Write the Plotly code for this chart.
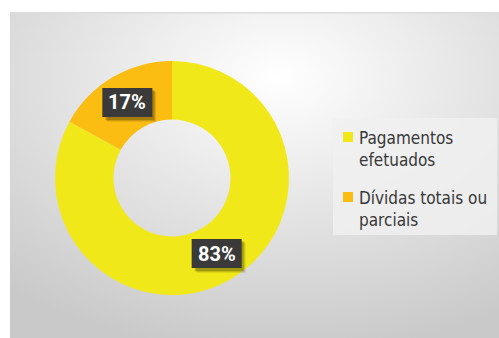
import math
import plotly.graph_objects as go

# Payment status shares (%)
categories = ["Pagamentos<br>efetuados", "Dívidas totais ou<br>parciais"]
shares = [83, 17]
colors = ["#f1e81a", "#fcbd12"]

W, H = 499, 338
cx, cy, r_out = 172, 178, 117  # donut centre / radius in px
hole = 0.5
FONT = "Liberation Sans Narrow, DejaVu Sans Condensed, Roboto Condensed, Roboto"


def px_x(x):
    return x / W


def px_y(y):
    return 1 - y / H


fig = go.Figure()
fig.add_trace(go.Pie(
    labels=categories,
    values=shares,
    hole=hole,
    sort=False,
    direction="clockwise",
    rotation=0,
    marker=dict(colors=colors, line=dict(width=0)),
    textinfo="none",
    hoverinfo="label+percent",
    showlegend=False,
    domain=dict(x=[px_x(cx - r_out), px_x(cx + r_out)],
                y=[px_y(cy + r_out), px_y(cy - r_out)]),
))

# Percentage tags at each slice's angular midpoint, mid-ring
total = sum(shares)
r_mid = r_out * (1 + hole) / 2
tag_w, tag_h = 50, 29
cum = 0
annotations, shapes = [], []
for v in shares:
    mid = (cum + v / 2) / total * 2 * math.pi
    cum += v
    tx = cx + r_mid * math.sin(mid)
    ty = cy - r_mid * math.cos(mid)
    # soft drop shadow behind the tag
    for k, a in ((5, 0.08), (4, 0.12), (3, 0.18)):
        shapes.append(dict(type="rect", xref="paper", yref="paper", layer="above",
                           x0=px_x(tx - tag_w / 2 + k), x1=px_x(tx + tag_w / 2 + k - 1),
                           y0=px_y(ty + tag_h / 2 + k), y1=px_y(ty - tag_h / 2 + k - 1),
                           fillcolor=f"rgba(0,0,0,{a})", line=dict(width=0)))
    shapes.append(dict(type="rect", xref="paper", yref="paper", layer="above",
                       x0=px_x(tx - tag_w / 2), x1=px_x(tx + tag_w / 2),
                       y0=px_y(ty + tag_h / 2), y1=px_y(ty - tag_h / 2),
                       fillcolor="#3a3a3a", line=dict(width=0)))
    annotations.append(dict(x=px_x(tx), y=px_y(ty), xref="paper", yref="paper",
                            xanchor="center", yanchor="middle", showarrow=False,
                            text=f"<b>{round(v / total * 100)}%</b>",
                            font=dict(family="Roboto", size=20, color="white")))

# Legend panel drawn by hand: background, colour squares, wrapped labels
shapes.append(dict(type="rect", xref="paper", yref="paper", layer="above",
                   x0=px_x(333), x1=px_x(497), y0=px_y(235), y1=px_y(118),
                   fillcolor="rgba(240,240,240,0.85)", line=dict(width=0)))
for i, (name, col) in enumerate(zip(categories, colors)):
    top = 132 + i * 60
    shapes.append(dict(type="rect", xref="paper", yref="paper", layer="above",
                       x0=px_x(343), x1=px_x(353), y0=px_y(top + 10), y1=px_y(top),
                       fillcolor=col, line=dict(width=0)))
    annotations.append(dict(x=px_x(357), y=px_y(top + 17), xref="paper", yref="paper",
                            xanchor="left", yanchor="middle", align="left",
                            showarrow=False, text=name,
                            font=dict(family=FONT, size=17, color="#383838")))

bg_svg = (
    "data:image/svg+xml;utf8,"
    "<svg xmlns='http://www.w3.org/2000/svg' width='489' height='326' viewBox='0 0 489 326' preserveAspectRatio='none'>"
    "<defs><radialGradient id='g' cx='0.55' cy='0.2' r='0.85' gradientUnits='objectBoundingBox'>"
    "<stop offset='0' stop-color='%23ffffff'/>"
    "<stop offset='0.45' stop-color='%23e6e6e6'/>"
    "<stop offset='1' stop-color='%23c9c9c9'/>"
    "</radialGradient></defs>"
    "<rect width='489' height='326' fill='url(%23g)'/>"
    "<rect width='489' height='1.5' fill='%23dcdcdc'/>"
    "</svg>"
)

fig.update_layout(
    width=W, height=H,
    margin=dict(l=0, r=0, t=0, b=0),
    paper_bgcolor="white",
    plot_bgcolor="rgba(0,0,0,0)",
    images=[dict(source=bg_svg, xref="paper", yref="paper",
                 x=px_x(10), y=px_y(12), sizex=1 - 10 / W, sizey=1 - 12 / H,
                 xanchor="left", yanchor="top", sizing="stretch", layer="below")],
    annotations=annotations,
    shapes=shapes,
    showlegend=False,
)

fig.write_html("out.html")
